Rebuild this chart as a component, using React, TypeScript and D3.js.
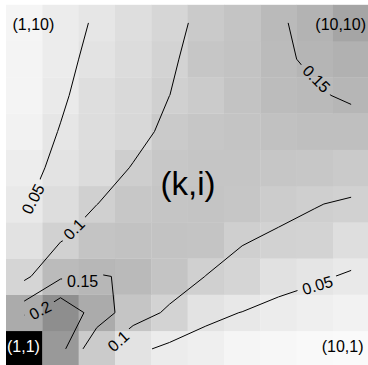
import React from 'react';
import * as d3 from 'd3';

// grid values z(k, i): one array per row i (bottom row first), columns k = 1..10
const row1 = [0.54, 0.215, 0.11, 0.06, 0.0408, 0.033, 0.022, 0.016, 0.012, 0.01];
const row2 = [0.178, 0.24, 0.178, 0.122, 0.0927, 0.06, 0.049, 0.04, 0.033, 0.028];
const row3 = [0.09, 0.143, 0.152, 0.147, 0.124, 0.0993, 0.089, 0.063, 0.055, 0.046];
const row4 = [0.062, 0.0977, 0.125, 0.13, 0.128, 0.125, 0.102, 0.0953, 0.093, 0.07];
const row5 = [0.046, 0.073, 0.0995, 0.118, 0.122, 0.125, 0.12, 0.1084, 0.101, 0.097];
const row6 = [0.038, 0.059, 0.075, 0.103, 0.118, 0.122, 0.122, 0.12, 0.118, 0.113];
const row7 = [0.027, 0.052, 0.072, 0.083, 0.112, 0.12, 0.125, 0.132, 0.135, 0.135];
const row8 = [0.024, 0.0437, 0.07, 0.08, 0.0999, 0.11, 0.128, 0.142, 0.146, 0.155];
const row9 = [0.024, 0.04, 0.06, 0.075, 0.093, 0.12, 0.128, 0.144, 0.156, 0.165];
const row10 = [0.022, 0.04, 0.053, 0.07, 0.087, 0.112, 0.125, 0.146, 0.161, 0.19];

const columnsK = [1, 2, 3, 4, 5, 6, 7, 8, 9, 10];
const rowsI = [1, 2, 3, 4, 5, 6, 7, 8, 9, 10];
const levels = [0.05, 0.1, 0.15, 0.2];
const cornerLabels = ['(1,10)', '(10,10)', '(1,1)', '(10,1)'];
const centerLabel = '(k,i)';

// label placement (grid coordinates) for the contour labels
const contourLabelLevels = [0.05, 0.1, 0.15, 0.2, 0.1, 0.15, 0.05];
const contourLabelK = [1.24, 2.37, 2.61, 1.44, 3.59, 9.05, 9.07];
const contourLabelI = [5.14, 4.31, 2.88, 2.07, 1.22, 8.46, 2.76];
const contourLabelAngle = [-62, -46, 0, -28, -42, 45, -17];

const W = 368;
const H = 365;
const FONT = "'Liberation Sans', Arial, Helvetica, sans-serif";

export default function App() {
  const zRows = [row1, row2, row3, row4, row5, row6, row7, row8, row9, row10];
  const nx = columnsK.length;
  const ny = rowsI.length;
  const values: number[] = zRows.flat();
  const zMax = d3.max(values) as number;

  const x = d3.scaleLinear().domain([0.5, 10.5]).range([6, 369.3]);
  const y = d3.scaleLinear().domain([0.5, 10.5]).range([367, 4.8]);
  const color = d3.scaleLinear<string>().domain([0, zMax]).range(['#ffffff', '#000000']);

  const contours = d3.contours().size([nx, ny]).thresholds(levels)(values);
  const onBoundary = (p: number[]) => p[0] <= 0 || p[0] >= nx || p[1] <= 0 || p[1] >= ny;
  const lines: number[][][] = [];
  contours.forEach((c) => {
    c.coordinates.forEach((poly) => {
      poly.forEach((ring) => {
        const pts = ring.slice(0, -1);
        const n = pts.length;
        const start = pts.findIndex(onBoundary);
        if (start < 0) {
          lines.push([...pts, pts[0]]);
          return;
        }
        let cur: number[][] = [];
        for (let t = 1; t <= n; t++) {
          const p = pts[(start + t) % n];
          if (onBoundary(p)) {
            if (cur.length > 1) lines.push(cur);
            cur = [];
          } else cur.push(p);
        }
        if (cur.length > 1) lines.push(cur);
      });
    });
  });

  const line = d3
    .line<number[]>()
    .x((p) => x(p[0] + 0.5))
    .y((p) => y(p[1] + 0.5));

  const fontSize = 16;
  const labelWidth = (s: string) =>
    s.split('').reduce((a, ch) => a + (ch === '.' ? 0.278 : 0.556), 0) * fontSize;

  const labels = contourLabelLevels.map((lv, idx) => ({
    text: String(lv),
    cx: x(contourLabelK[idx]),
    cy: y(contourLabelI[idx]),
    angle: contourLabelAngle[idx],
  }));

  return (
    <svg
      width={W}
      height={H}
      style={{ position: 'absolute', left: 0, top: 0, background: '#ffffff' }}
      fontFamily={FONT}
    >
      <defs>
        <mask id="lblmask" maskUnits="userSpaceOnUse" x={0} y={0} width={W} height={H}>
          <rect x={0} y={0} width={W} height={H} fill="#fff" />
          {labels.map((l, idx) => {
            const w = labelWidth(l.text) + 10;
            return (
              <rect
                key={idx}
                x={-w / 2}
                y={-8}
                width={w}
                height={16}
                fill="#000"
                transform={`translate(${l.cx},${l.cy}) rotate(${l.angle})`}
              />
            );
          })}
        </mask>
      </defs>
      <g>
        {rowsI.map((i, ri) =>
          columnsK.map((k, ci) => (
            <rect
              key={`${k}-${i}`}
              x={x(k - 0.5)}
              y={y(i + 0.5)}
              width={x(k + 0.5) - x(k - 0.5) + 0.3}
              height={y(i - 0.5) - y(i + 0.5) + 0.3}
              fill={color(zRows[ri][ci])}
            />
          ))
        )}
      </g>
      <g mask="url(#lblmask)">
        {lines.map((ln, idx) => (
          <path key={idx} d={line(ln) || ''} fill="none" stroke="#000" strokeWidth={1} />
        ))}
      </g>
      <g fontSize={fontSize} fill="#000">
        {labels.map((l, idx) => (
          <text
            key={idx}
            transform={`translate(${l.cx},${l.cy}) rotate(${l.angle})`}
            textAnchor="middle"
            dy="0.36em"
          >
            {l.text}
          </text>
        ))}
      </g>
      <g fontSize={16}>
        <text x={12.5} y={30} textAnchor="start">{cornerLabels[0]}</text>
        <text x={366} y={30} textAnchor="end">{cornerLabels[1]}</text>
        <text x={7} y={352} textAnchor="start" fill="#fff">{cornerLabels[2]}</text>
        <text x={363.5} y={352} textAnchor="end">{cornerLabels[3]}</text>
      </g>
      <text x={188} y={195} textAnchor="middle" fontSize={33}>{centerLabel}</text>
    </svg>
  );
}
